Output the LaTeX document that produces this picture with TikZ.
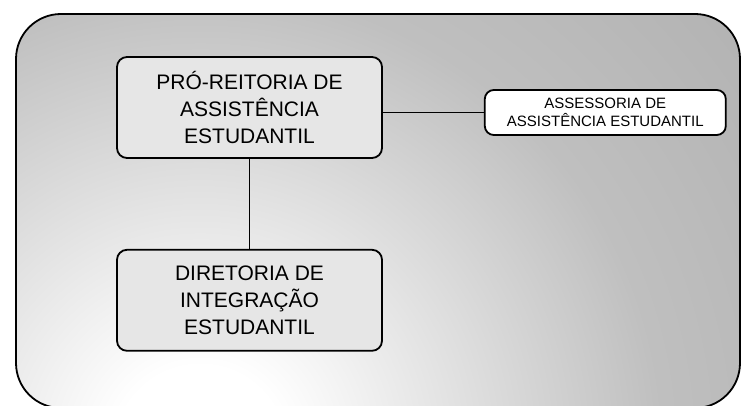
\documentclass[tikz,border=0pt]{standalone}
\usepackage{fontspec}
\setmainfont{Liberation Sans}
\usepackage{xcolor}
\usetikzlibrary{positioning}

\definecolor{boxgray}{HTML}{E6E6E6}
\pgfdeclareradialshading{bgshade}{\pgfpoint{0bp}{0bp}}{color(0bp)=(white); color(3bp)=(white); color(10bp)=(black!13); color(16.5bp)=(black!25); color(25bp)=(black!30); color(50bp)=(black!30)}

\begin{document}
\begin{tikzpicture}[x=1pt,y=-1pt]
	\tikzstyle{unit} = [draw, line width=1.8pt, rounded corners=10pt, fill=boxgray, align=center, minimum width=265pt, minimum height=101pt, font=\fontsize{21}{27}\selectfont]
	\tikzstyle{small} = [draw, line width=1.8pt, rounded corners=9pt, fill=white, align=center, minimum width=241pt, minimum height=45pt, font=\fontsize{15}{18}\selectfont]
	\tikzstyle{line} = [draw, line width=1.8pt]
	
	\useasboundingbox (0,0) rectangle (741,406);
	\begin{scope}
		\clip [rounded corners=45pt] (16,14) rectangle (740,408);
		\shade [shading=bgshade] (200,450) circle (700pt);
	\end{scope}
	\draw [line width=1.8pt, rounded corners=45pt] (16,14) rectangle (740,408);
	
	\node [unit] (pro) at (249.5,107.5) {PRÓ-REITORIA DE\\ASSISTÊNCIA\\ESTUDANTIL};
	\node [unit, below=90pt of pro] (dir) {DIRETORIA DE\\INTEGRAÇÃO\\ESTUDANTIL};
	\node [small, right=101pt of pro, yshift=-5pt] (ass) {ASSESSORIA DE\\ASSISTÊNCIA ESTUDANTIL};
	
	\path [line] (ass.west) -- (ass.west -| pro.east);
	\path [line] (pro) -- (dir);
\end{tikzpicture}
\end{document}
